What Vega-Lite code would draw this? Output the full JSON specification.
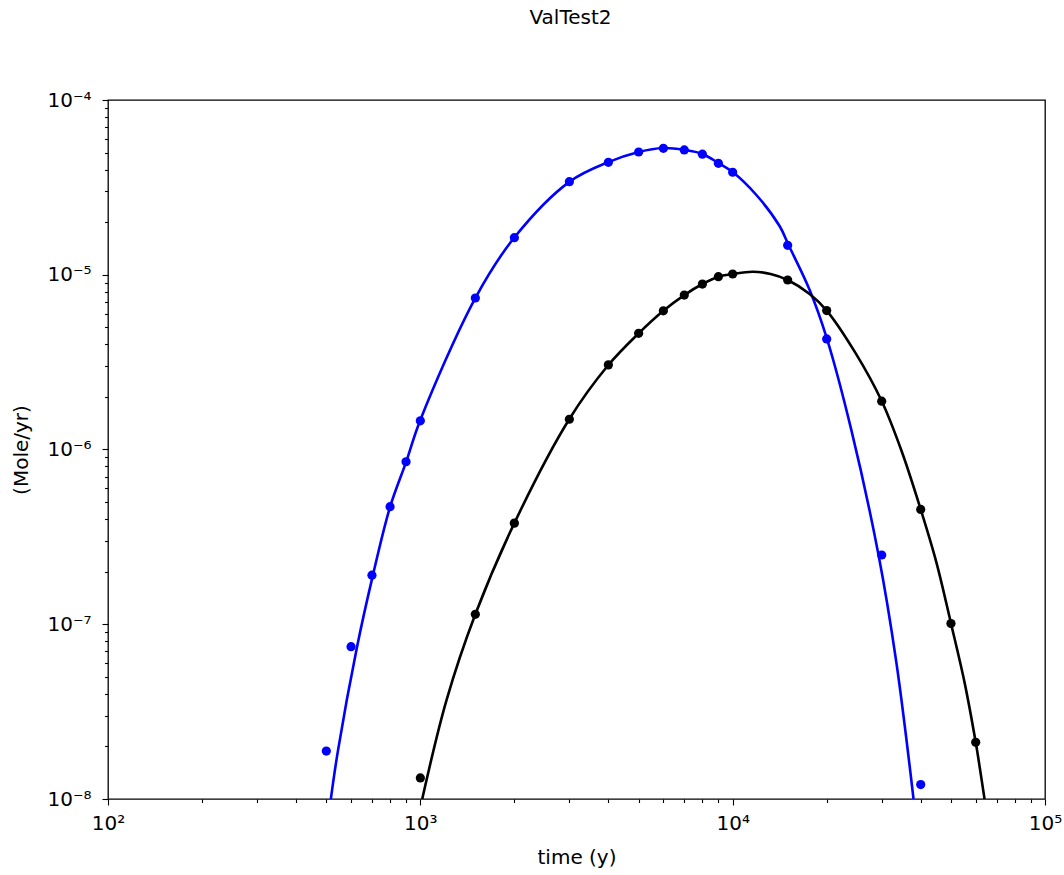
{
  "$schema": "https://vega.github.io/schema/vega-lite/v6.json",
  "width": 937,
  "height": 699,
  "autosize": "none",
  "padding": {"left": 108, "top": 100, "right": 19, "bottom": 76},
  "background": "white",
  "title": {"text": "ValTest2", "font": "DejaVu Sans", "fontSize": 20, "fontWeight": "normal", "color": "black", "anchor": "middle", "baseline": "alphabetic", "offset": 46, "dx": -6},
  "config": {
    "view": {"stroke": "black", "strokeWidth": 1.3},
    "axis": {"grid": false, "domain": false, "tickColor": "black", "tickWidth": 1.1, "labelColor": "black", "titleColor": "black", "labelFont": "DejaVu Sans", "titleFont": "DejaVu Sans", "labelFontSize": 20, "titleFontSize": 20, "titleFontWeight": "normal", "labelFlush": false, "labelOverlap": false}
  },
  "datasets": {
    "curves": [
      {"series": "A", "t": 517, "rate": 1e-8},
      {"series": "A", "t": 544.5, "rate": 1.88e-8},
      {"series": "A", "t": 627, "rate": 7.41e-8},
      {"series": "A", "t": 705, "rate": 1.91e-7},
      {"series": "A", "t": 800, "rate": 4.69e-7},
      {"series": "A", "t": 900, "rate": 8.47e-7},
      {"series": "A", "t": 1000, "rate": 1.476e-6},
      {"series": "A", "t": 1500, "rate": 7.36e-6},
      {"series": "A", "t": 2000, "rate": 1.633e-5},
      {"series": "A", "t": 3000, "rate": 3.4e-5},
      {"series": "A", "t": 4000, "rate": 4.41e-5},
      {"series": "A", "t": 5000, "rate": 5.04e-5},
      {"series": "A", "t": 6000, "rate": 5.31e-5},
      {"series": "A", "t": 7000, "rate": 5.18e-5},
      {"series": "A", "t": 8000, "rate": 4.91e-5},
      {"series": "A", "t": 9000, "rate": 4.36e-5},
      {"series": "A", "t": 10000, "rate": 3.87e-5},
      {"series": "A", "t": 11910, "rate": 2.86e-5},
      {"series": "A", "t": 14130, "rate": 1.9e-5},
      {"series": "A", "t": 15100, "rate": 1.48e-5},
      {"series": "A", "t": 17640, "rate": 8.18e-6},
      {"series": "A", "t": 20000, "rate": 4.35e-6},
      {"series": "A", "t": 23990, "rate": 1.29e-6},
      {"series": "A", "t": 29310, "rate": 2.49e-7},
      {"series": "A", "t": 33410, "rate": 6.08e-8},
      {"series": "A", "t": 37940, "rate": 1e-8},
      {"series": "B", "t": 1014, "rate": 1e-8},
      {"series": "B", "t": 1213, "rate": 3.68e-8},
      {"series": "B", "t": 1500, "rate": 1.14e-7},
      {"series": "B", "t": 2000, "rate": 3.79e-7},
      {"series": "B", "t": 3000, "rate": 1.494e-6},
      {"series": "B", "t": 4000, "rate": 3.045e-6},
      {"series": "B", "t": 5000, "rate": 4.62e-6},
      {"series": "B", "t": 6000, "rate": 6.22e-6},
      {"series": "B", "t": 7000, "rate": 7.65e-6},
      {"series": "B", "t": 8000, "rate": 8.85e-6},
      {"series": "B", "t": 9000, "rate": 9.75e-6},
      {"series": "B", "t": 10000, "rate": 1.01e-5},
      {"series": "B", "t": 11590, "rate": 1.041e-5},
      {"series": "B", "t": 13230, "rate": 1.01e-5},
      {"series": "B", "t": 15000, "rate": 9.33e-6},
      {"series": "B", "t": 17640, "rate": 7.76e-6},
      {"series": "B", "t": 20000, "rate": 6.24e-6},
      {"series": "B", "t": 24750, "rate": 3.56e-6},
      {"series": "B", "t": 30000, "rate": 1.894e-6},
      {"series": "B", "t": 34740, "rate": 9.8e-7},
      {"series": "B", "t": 40000, "rate": 4.54e-7},
      {"series": "B", "t": 44960, "rate": 2.24e-7},
      {"series": "B", "t": 50000, "rate": 1.012e-7},
      {"series": "B", "t": 55260, "rate": 4.65e-8},
      {"series": "B", "t": 60000, "rate": 2.11e-8},
      {"series": "B", "t": 61940, "rate": 1.48e-8},
      {"series": "B", "t": 64030, "rate": 1e-8}
    ],
    "points": [
      {"series": "A", "t": 500, "rate": 1.88e-8},
      {"series": "A", "t": 600, "rate": 7.44e-8},
      {"series": "A", "t": 700, "rate": 1.91e-7},
      {"series": "A", "t": 800, "rate": 4.71e-7},
      {"series": "A", "t": 900, "rate": 8.51e-7},
      {"series": "A", "t": 1000, "rate": 1.46e-6},
      {"series": "A", "t": 1500, "rate": 7.36e-6},
      {"series": "A", "t": 2000, "rate": 1.63e-5},
      {"series": "A", "t": 3000, "rate": 3.41e-5},
      {"series": "A", "t": 4000, "rate": 4.4e-5},
      {"series": "A", "t": 5000, "rate": 5.04e-5},
      {"series": "A", "t": 6000, "rate": 5.29e-5},
      {"series": "A", "t": 7000, "rate": 5.18e-5},
      {"series": "A", "t": 8000, "rate": 4.9e-5},
      {"series": "A", "t": 9000, "rate": 4.34e-5},
      {"series": "A", "t": 10000, "rate": 3.86e-5},
      {"series": "A", "t": 15000, "rate": 1.474e-5},
      {"series": "A", "t": 20000, "rate": 4.29e-6},
      {"series": "A", "t": 30000, "rate": 2.49e-7},
      {"series": "A", "t": 40000, "rate": 1.21e-8},
      {"series": "B", "t": 1000, "rate": 1.32e-8},
      {"series": "B", "t": 1500, "rate": 1.14e-7},
      {"series": "B", "t": 2000, "rate": 3.79e-7},
      {"series": "B", "t": 3000, "rate": 1.49e-6},
      {"series": "B", "t": 4000, "rate": 3.05e-6},
      {"series": "B", "t": 5000, "rate": 4.62e-6},
      {"series": "B", "t": 6000, "rate": 6.22e-6},
      {"series": "B", "t": 7000, "rate": 7.65e-6},
      {"series": "B", "t": 8000, "rate": 8.85e-6},
      {"series": "B", "t": 9000, "rate": 9.75e-6},
      {"series": "B", "t": 10000, "rate": 1.01e-5},
      {"series": "B", "t": 15000, "rate": 9.33e-6},
      {"series": "B", "t": 20000, "rate": 6.24e-6},
      {"series": "B", "t": 30000, "rate": 1.89e-6},
      {"series": "B", "t": 40000, "rate": 4.54e-7},
      {"series": "B", "t": 50000, "rate": 1.01e-7},
      {"series": "B", "t": 60000, "rate": 2.11e-8}
    ]
  },
  "encoding": {
    "x": {
      "field": "t", "type": "quantitative",
      "scale": {"type": "log", "domain": [100, 100000], "nice": false},
      "axis": {
        "title": "time (y)",
        "values": [100, 200, 300, 400, 500, 600, 700, 800, 900, 1000, 2000, 3000, 4000, 5000, 6000, 7000, 8000, 9000, 10000, 20000, 30000, 40000, 50000, 60000, 70000, 80000, 90000, 100000],
        "labelExpr": "datum.value == 100 ? '10²' : datum.value == 1000 ? '10³' : datum.value == 10000 ? '10⁴' : datum.value == 100000 ? '10⁵' : ''",
        "tickSize": {"condition": {"test": "datum.value == 100 || datum.value == 1000 || datum.value == 10000 || datum.value == 100000", "value": 6}, "value": 3.5},
        "labelPadding": 8,
        "titlePadding": 14
      }
    },
    "y": {
      "field": "rate", "type": "quantitative",
      "scale": {"type": "log", "domain": [1e-8, 0.0001], "nice": false},
      "axis": {
        "title": "(Mole/yr)",
        "values": [1e-8, 2e-8, 3e-8, 4e-8, 5e-8, 6e-8, 7e-8, 8e-8, 9e-8, 1e-7, 2e-7, 3e-7, 4e-7, 5e-7, 6e-7, 7e-7, 8e-7, 9e-7, 1e-6, 2e-6, 3e-6, 4e-6, 5e-6, 6e-6, 7e-6, 8e-6, 9e-6, 1e-5, 2e-5, 3e-5, 4e-5, 5e-5, 6e-5, 7e-5, 8e-5, 9e-5, 0.0001],
        "labelExpr": "abs(log(datum.value)/LN10 - round(log(datum.value)/LN10)) < 0.01 ? '10⁻' + (round(log(datum.value)/LN10) == -4 ? '⁴' : round(log(datum.value)/LN10) == -5 ? '⁵' : round(log(datum.value)/LN10) == -6 ? '⁶' : round(log(datum.value)/LN10) == -7 ? '⁷' : '⁸') : ''",
        "tickSize": {"condition": {"test": "abs(log(datum.value)/LN10 - round(log(datum.value)/LN10)) < 0.01", "value": 6}, "value": 3.5},
        "labelPadding": 11,
        "titlePadding": 15
      }
    },
    "color": {
      "field": "series", "type": "nominal",
      "scale": {"domain": ["A", "B"], "range": ["#0000ff", "#000000"]},
      "legend": null
    }
  },
  "layer": [
    {
      "data": {"name": "curves"},
      "mark": {"type": "line", "strokeWidth": 2.6, "clip": true, "interpolate": "catmull-rom"}
    },
    {
      "data": {"name": "points"},
      "mark": {"type": "point", "filled": true, "size": 85, "opacity": 1, "clip": true}
    }
  ]
}
